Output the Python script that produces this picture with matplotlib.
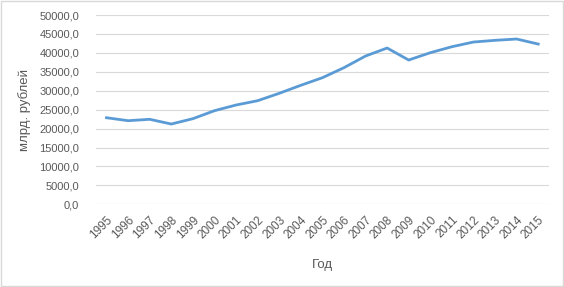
import matplotlib
matplotlib.use("Agg")
import matplotlib.pyplot as plt
from matplotlib.patches import Rectangle
from matplotlib.ticker import FuncFormatter

# Data
years = ["1995", "1996", "1997", "1998", "1999", "2000", "2001", "2002", "2003", "2004",
         "2005", "2006", "2007", "2008", "2009", "2010", "2011", "2012", "2013", "2014", "2015"]
values = [22870, 22080, 22450, 21200, 22610, 24720, 26220, 27360, 29310, 31430,
          33430, 36080, 39160, 41280, 38110, 40040, 41620, 42860, 43310, 43660, 42330]

text_color = "#595959"
plt.rcParams['font.family'] = ['Liberation Sans', 'DejaVu Sans']

fig = plt.figure(figsize=(5.64, 2.87), dpi=100)
ax = fig.add_axes([0.1697, 0.2882, 0.8037, 0.6595])

x = list(range(len(years)))
ax.plot(x, values, color="#5B9BD5", linewidth=2.0, solid_joinstyle="round")

ax.set_xlim(-0.5, len(years) - 0.5)
ax.set_ylim(0, 50000)
ax.set_yticks(range(0, 50001, 5000))
ax.yaxis.set_major_formatter(FuncFormatter(lambda v, p: f"{v:.1f}".replace(".", ",")))
ax.set_xticks(x)
ax.set_xticklabels(years, rotation=45, ha="right", rotation_mode="anchor")

ax.grid(axis="y", color="#D9D9D9", linewidth=0.8)
ax.set_axisbelow(True)
for s in ax.spines.values():
    s.set_visible(False)
ax.tick_params(axis="both", length=0, colors=text_color)
ax.tick_params(axis="x", pad=7, labelsize=8.5)
ax.tick_params(axis="y", pad=12, labelsize=8)

ax.set_ylabel("млрд. рублей", fontsize=9.5, color=text_color, labelpad=6)
ax.set_xlabel("Год", fontsize=9.5, color=text_color, labelpad=13)

# light frame around the whole chart
fig.patches.append(Rectangle((0.001, 0.004), 0.997, 0.993, transform=fig.transFigure,
                             fill=False, edgecolor="#D9D9D9", linewidth=1))

fig.savefig("out.png", dpi=100)
plt.close(fig)
